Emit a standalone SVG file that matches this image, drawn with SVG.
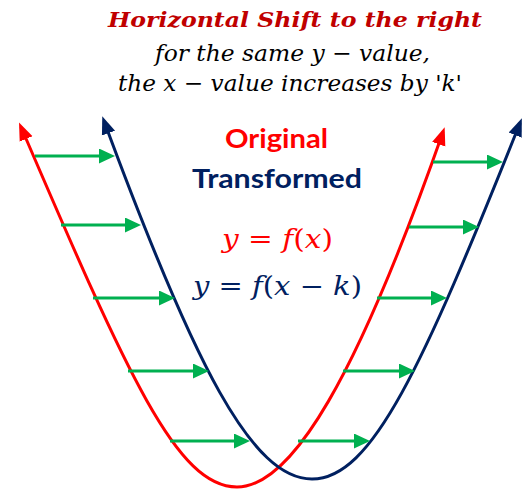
<svg xmlns="http://www.w3.org/2000/svg" width="528" height="489" viewBox="0 0 528 489">
<style>
.red{fill:none;stroke:#ff0000;stroke-width:3}
.blue{fill:none;stroke:#002060;stroke-width:3}
.grn{stroke:#00b050;stroke-width:3;marker-end:url(#ahG)}
.math{font-family:"DejaVu Serif","Liberation Serif",serif;}
.it{font-style:italic}
.lbl{font-family:Lato,"Liberation Sans",Arial,sans-serif;font-weight:bold;text-anchor:start}
</style>
<defs>
<marker id="ahR" markerUnits="userSpaceOnUse" markerWidth="18" markerHeight="16" viewBox="0 0 18 16" refX="13" refY="8" orient="auto"><path d="M0,1 L18,8 L0,15 z" fill="#ff0000"/></marker>
<marker id="ahB" markerUnits="userSpaceOnUse" markerWidth="18" markerHeight="16" viewBox="0 0 18 16" refX="13" refY="8" orient="auto"><path d="M0,1 L18,8 L0,15 z" fill="#002060"/></marker>
<marker id="ahG" markerUnits="userSpaceOnUse" markerWidth="16" markerHeight="15" viewBox="0 0 16 15" refX="10" refY="7.5" orient="auto"><path d="M0,0 L16,7.5 L0,15 z" fill="#00b050"/></marker>
</defs>

<g id="title">
<text x="108" y="27" class="math" font-size="21" font-weight="bold" font-style="italic" fill="#c00000" textLength="374" lengthAdjust="spacingAndGlyphs">Horizontal Shift to the right</text>
<text x="155" y="61" class="math it" font-size="23" fill="#000" textLength="275" lengthAdjust="spacingAndGlyphs">for the same y <tspan font-style="normal">−</tspan> value,</text>
<text x="118" y="91" class="math it" font-size="23" fill="#000" textLength="344" lengthAdjust="spacingAndGlyphs">the x <tspan font-style="normal">−</tspan> value increases by <tspan font-style="normal">'</tspan>k<tspan font-style="normal">'</tspan></text>
</g>

<g id="legend">
<text x="225" y="148" class="lbl" font-size="27" fill="#ff0000" textLength="103" lengthAdjust="spacingAndGlyphs">Original</text>
<text x="192" y="188" class="lbl" font-size="27" fill="#002060" textLength="170" lengthAdjust="spacingAndGlyphs">Transformed</text>
</g>

<g id="eq-original">
<text x="222" y="248" class="math" font-size="26" fill="#ff0000" textLength="111" lengthAdjust="spacingAndGlyphs"><tspan font-style="italic">y</tspan> = <tspan font-style="italic">f</tspan>(<tspan font-style="italic">x</tspan>)</text>
</g>
<g id="eq-transformed">
<text x="193" y="295" class="math" font-size="26" fill="#002060" textLength="169" lengthAdjust="spacingAndGlyphs"><tspan font-style="italic">y</tspan> = <tspan font-style="italic">f</tspan>(<tspan font-style="italic">x</tspan> − <tspan font-style="italic">k</tspan>)</text>
</g>

<g id="curve-original">
<path class="red" d="M237,487 C177,487 128.5,377 21,127" marker-end="url(#ahR)"/>
<path class="red" d="M237,487 C292,487 357,377 443,132" marker-end="url(#ahR)"/>
</g>
<g id="curve-transformed">
<path class="blue" d="M312,479 C252,479 194.6,366 104,121" marker-end="url(#ahB)"/>
<path class="blue" d="M312,479 C372,479 422,368 520,123" marker-end="url(#ahB)"/>
</g>

<g id="connectors">
<line class="grn" x1="35" y1="156" x2="109" y2="156"/>
<line class="grn" x1="61" y1="225" x2="135" y2="225"/>
<line class="grn" x1="93" y1="298" x2="169" y2="298"/>
<line class="grn" x1="128" y1="371" x2="203" y2="371"/>
<line class="grn" x1="170" y1="441" x2="244" y2="441"/>
<line class="grn" x1="433" y1="162" x2="497" y2="162"/>
<line class="grn" x1="409" y1="227" x2="473" y2="227"/>
<line class="grn" x1="377" y1="298" x2="441" y2="298"/>
<line class="grn" x1="343" y1="371" x2="409" y2="371"/>
<line class="grn" x1="298" y1="441" x2="364" y2="441"/>
</g>
</svg>
